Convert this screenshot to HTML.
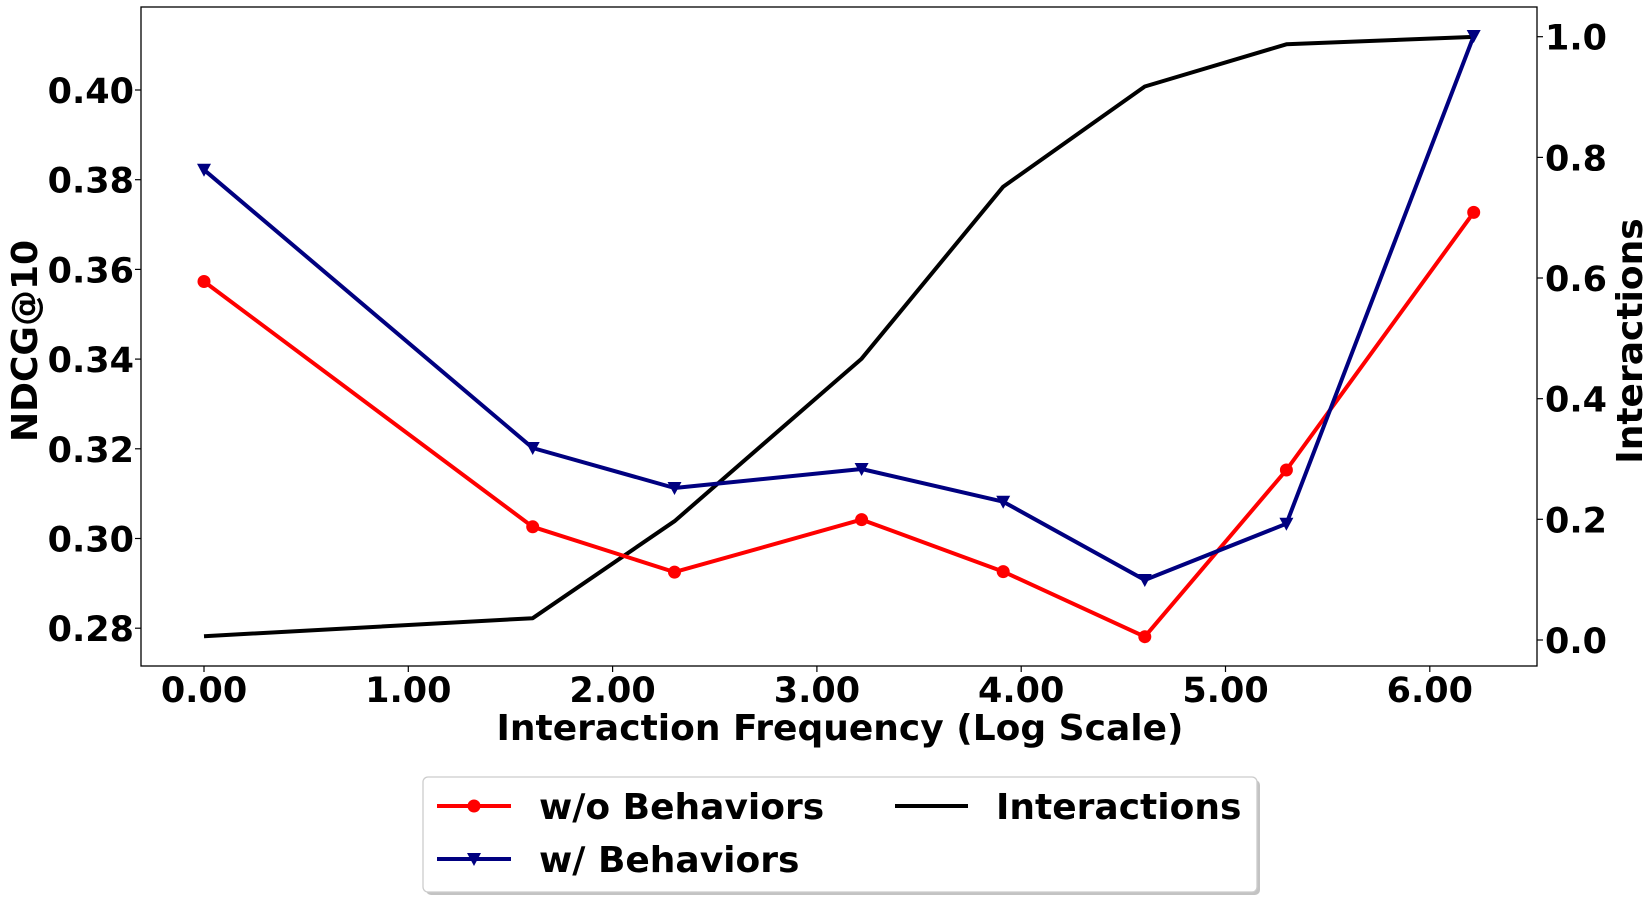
<!DOCTYPE html>
<html><head><meta charset="utf-8"><style>
html,body{margin:0;padding:0;background:#fff;}
svg{display:block;}
text{font-family:"DejaVu Sans","Liberation Sans",sans-serif;font-weight:bold;fill:#000;}
</style></head><body>
<svg width="1652" height="898" viewBox="0 0 1652 898" xmlns="http://www.w3.org/2000/svg">
<rect x="0" y="0" width="1652" height="898" fill="#fff"/>
<rect x="141" y="7" width="1396" height="659" fill="none" stroke="#000" stroke-width="1.3"/>
<g stroke="#000" stroke-width="1.2">
<line x1="135" y1="90" x2="141" y2="90"/><line x1="135" y1="179.7" x2="141" y2="179.7"/>
<line x1="135" y1="269.4" x2="141" y2="269.4"/><line x1="135" y1="359.1" x2="141" y2="359.1"/>
<line x1="135" y1="448.8" x2="141" y2="448.8"/><line x1="135" y1="538.5" x2="141" y2="538.5"/>
<line x1="135" y1="628.2" x2="141" y2="628.2"/>
<line x1="1537" y1="36.7" x2="1543" y2="36.7"/><line x1="1537" y1="157.4" x2="1543" y2="157.4"/>
<line x1="1537" y1="278" x2="1543" y2="278"/><line x1="1537" y1="398.7" x2="1543" y2="398.7"/>
<line x1="1537" y1="519.3" x2="1543" y2="519.3"/><line x1="1537" y1="640" x2="1543" y2="640"/>
<line x1="204" y1="666" x2="204" y2="672"/><line x1="408.3" y1="666" x2="408.3" y2="672"/>
<line x1="612.6" y1="666" x2="612.6" y2="672"/><line x1="816.9" y1="666" x2="816.9" y2="672"/>
<line x1="1021.2" y1="666" x2="1021.2" y2="672"/><line x1="1225.5" y1="666" x2="1225.5" y2="672"/>
<line x1="1429.8" y1="666" x2="1429.8" y2="672"/>
</g>
<g font-size="35" text-anchor="end">
<text x="134" y="103">0.40</text><text x="134" y="192.7">0.38</text>
<text x="134" y="282.4">0.36</text><text x="134" y="372.1">0.34</text>
<text x="134" y="461.8">0.32</text><text x="134" y="551.5">0.30</text>
<text x="134" y="641.2">0.28</text>
</g>
<g font-size="35" text-anchor="start">
<text x="1545" y="49.7">1.0</text><text x="1545" y="170.4">0.8</text>
<text x="1545" y="291">0.6</text><text x="1545" y="411.7">0.4</text>
<text x="1545" y="532.3">0.2</text><text x="1545" y="653">0.0</text>
</g>
<g font-size="35" text-anchor="middle">
<text x="204" y="702">0.00</text><text x="408.3" y="702">1.00</text>
<text x="612.6" y="702">2.00</text><text x="816.9" y="702">3.00</text>
<text x="1021.2" y="702">4.00</text><text x="1225.5" y="702">5.00</text>
<text x="1429.8" y="702">6.00</text>
</g>
<text x="840" y="740" font-size="36" text-anchor="middle">Interaction Frequency (Log Scale)</text>
<text transform="translate(37,341) rotate(-90)" font-size="36" text-anchor="middle">NDCG@10</text>
<text transform="translate(1642,341) rotate(-90)" font-size="36" text-anchor="middle">Interactions</text>
<polyline fill="none" stroke="#000" stroke-width="4" stroke-linejoin="round"
 points="204,636.2 532.7,618.2 674.5,521.2 861.6,358.7 1003.2,186.7 1144.8,86.5 1286.4,44.3 1473.7,36.9"/>
<polyline fill="none" stroke="#ff0000" stroke-width="4" stroke-linejoin="round"
 points="204,281.5 532.7,526.8 674.5,572.1 861.6,519.6 1003.2,571.6 1144.8,636.7 1286.4,470 1473.7,212.4"/>
<g fill="#ff0000">
<circle cx="204" cy="281.5" r="6.5"/><circle cx="532.7" cy="526.8" r="6.5"/><circle cx="674.5" cy="572.1" r="6.5"/>
<circle cx="861.6" cy="519.6" r="6.5"/><circle cx="1003.2" cy="571.6" r="6.5"/><circle cx="1144.8" cy="636.7" r="6.5"/>
<circle cx="1286.4" cy="470" r="6.5"/><circle cx="1473.7" cy="212.4" r="6.5"/>
</g>
<polyline fill="none" stroke="#000080" stroke-width="4" stroke-linejoin="round"
 points="204,169.8 532.7,448 674.5,488 861.6,469 1003.2,501.7 1144.8,580 1286.4,523.7 1473.7,36"/>
<g fill="#000080">
<path d="M-7,-6 L7,-6 L0,7 Z" transform="translate(204,169.8)"/>
<path d="M-7,-6 L7,-6 L0,7 Z" transform="translate(532.7,448)"/>
<path d="M-7,-6 L7,-6 L0,7 Z" transform="translate(674.5,488)"/>
<path d="M-7,-6 L7,-6 L0,7 Z" transform="translate(861.6,469)"/>
<path d="M-7,-6 L7,-6 L0,7 Z" transform="translate(1003.2,501.7)"/>
<path d="M-7,-6 L7,-6 L0,7 Z" transform="translate(1144.8,580)"/>
<path d="M-7,-6 L7,-6 L0,7 Z" transform="translate(1286.4,523.7)"/>
<path d="M-7,-6 L7,-6 L0,7 Z" transform="translate(1473.7,36)"/>
</g>
<rect x="426" y="780" width="834" height="115" rx="5" fill="#888" opacity="0.5"/>
<rect x="423" y="777" width="834" height="115" rx="5" fill="#fff" stroke="#ccc" stroke-width="1.3"/>
<line x1="437" y1="806" x2="511" y2="806" stroke="#ff0000" stroke-width="4"/>
<circle cx="474" cy="806" r="6.5" fill="#ff0000"/>
<text x="539" y="819" font-size="36">w/o Behaviors</text>
<line x1="437" y1="859" x2="511" y2="859" stroke="#000080" stroke-width="4"/>
<path d="M-7,-6 L7,-6 L0,7 Z" transform="translate(474,859)" fill="#000080"/>
<text x="539" y="872" font-size="36">w/ Behaviors</text>
<line x1="895" y1="806" x2="968" y2="806" stroke="#000" stroke-width="4"/>
<text x="996" y="819" font-size="36">Interactions</text>
</svg>
</body></html>
